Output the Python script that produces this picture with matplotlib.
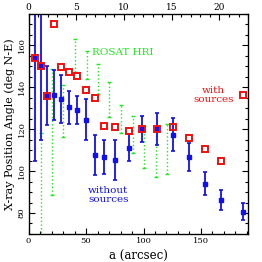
import matplotlib
matplotlib.use("Agg")
import matplotlib.pyplot as plt
import numpy as np

plt.rcParams['font.family'] = 'DejaVu Serif'

# position angle vs semi-major axis a (arcsec)
a_pts = [5.7, 10.9, 15.8, 21.8, 28.0, 35.2, 42.0, 50.0, 58.0, 66.0, 75.2, 87.2,
         98.5, 111.5, 125.9, 139.7, 153.6, 167.0, 186.3]

# with sources (red squares)
pa_with = [154.1, 150.3, 135.9, 170.4, 149.5, 147.5, 145.6, 138.7, 134.9, 121.6,
           121.2, 119.1, 120.1, 120.1, 120.8, 116.0, 110.5, 104.7, 136.4]

# without sources (blue points)
pa_without = [154.0, 150.3, 136.0, 136.4, 134.4, 130.4, 129.3, 124.6, 107.7, 106.8,
              105.2, 111.2, 120.0, 120.0, 117.4, 106.6, 94.0, 86.0, 80.7]
err_without = [49.3, 35.5, 14.0, 12.0, 11.5, 7.7, 6.7, 10.0, 9.6, 8.0,
               9.6, 6.4, 6.2, 7.7, 7.8, 6.6, 5.4, 4.8, 4.2]

# ROSAT HRI (green dotted bars)
a_hri = [10.6, 20.2, 30.3, 40.4, 50.6, 60.7, 70.3, 80.4, 90.6, 100.3, 110.9, 120.7]
hri_top = [118.1, 148.8, 141.3, 163.2, 157.3, 150.9, 142.7, 131.7, 126.1, 121.5, 121.6, 122.7]
hri_bot = [62.0, 88.5, 116.2, 147.5, 144.0, 136.8, 125.6, 118.0, 108.8, 101.5, 97.2, 98.5]

hri_mid = (np.array(hri_top) + np.array(hri_bot)) / 2
hri_err = (np.array(hri_top) - np.array(hri_bot)) / 2

green = '#1ee81e'
blue = '#1010f0'
red = '#f01010'

fig = plt.figure(figsize=(2.62, 2.62), dpi=100)
ax = fig.add_axes([0.109, 0.107, 0.838, 0.840])

eb = ax.errorbar(a_hri, hri_mid, yerr=hri_err, fmt='none', ecolor=green,
                 elinewidth=1.0, capsize=1.6, capthick=1.0)
eb[2][0].set_linestyle(':')

ax.errorbar(a_pts, pa_without, yerr=err_without, fmt='s', color=blue,
            ms=2.2, elinewidth=1.3, capsize=1.6, capthick=1.2, zorder=3)

ax.plot(a_pts, pa_with, 's', mfc='none', mec=red, ms=4.4, mew=1.4, zorder=4)

ax.text(55.5, 156.5, 'ROSAT HRI', color=green, fontsize=7.5, va='center', ha='left')
ax.text(161, 136.5, 'with\nsources', color=red, fontsize=7.5, va='center',
        ha='center', linespacing=1.0)
ax.text(69.5, 88.5, 'without\nsources', color=blue, fontsize=7.5, va='center',
        ha='center', linespacing=1.0)

ax.set_xlim(0, 191)
ax.set_ylim(70, 175)
ax.set_xticks([0, 50, 100, 150])
ax.set_xticks(np.arange(0, 191, 10), minor=True)
ax.set_yticks([80, 100, 120, 140, 160])
ax.set_yticks(np.arange(70, 176, 5), minor=True)
ax.tick_params(which='both', direction='in', right=True, labelsize=6, width=0.8, pad=2)
ax.tick_params(which='major', length=4)
ax.tick_params(which='minor', length=2)
ax.tick_params(axis='x', top=False)
for lab in ax.get_yticklabels():
    lab.set_rotation(90)
    lab.set_va('center')
ax.set_xlabel('a (arcsec)', fontsize=8.5, labelpad=4)
ax.set_ylabel('X-ray Position Angle (deg N-E)', fontsize=8, labelpad=2)

# top axis in kpc
ax2 = ax.twiny()
ax2.set_xlim(0, 23.0)
ax2.set_xticks([0, 5, 10, 15, 20])
ax2.set_xticks(np.arange(0, 23.1, 1), minor=True)
ax2.tick_params(which='both', direction='in', labelsize=6.5, width=0.8, pad=1.5)
ax2.tick_params(which='major', length=4)
ax2.tick_params(which='minor', length=2)

for sp in ax.spines.values():
    sp.set_linewidth(0.9)

fig.savefig('out.png', dpi=100)
